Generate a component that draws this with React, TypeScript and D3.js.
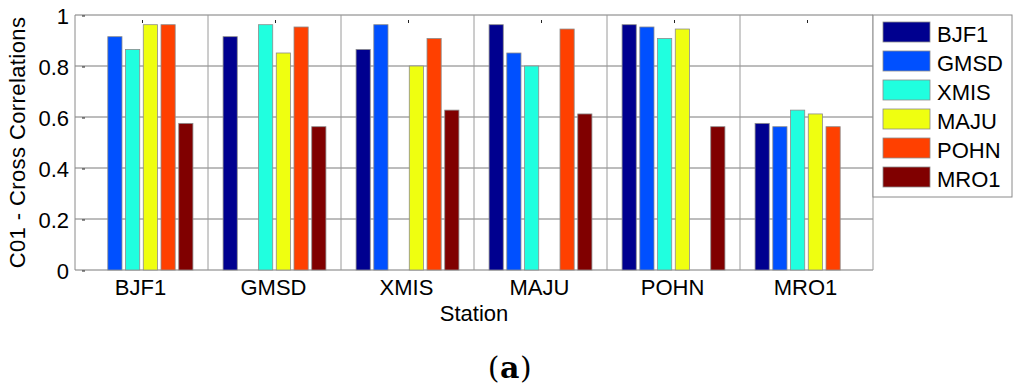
import React from "react";
import * as d3 from "d3";

const stations = ["BJF1", "GMSD", "XMIS", "MAJU", "POHN", "MRO1"];
const seriesNames = ["BJF1", "GMSD", "XMIS", "MAJU", "POHN", "MRO1"];
const seriesColors = ["#00008F", "#0050FF", "#20FFDF", "#EFFF10", "#FF4000", "#800000"];
const valsBJF1 = [null, 0.915, 0.865, 0.962, 0.962, 0.575];
const valsGMSD = [0.915, null, 0.962, 0.851, 0.953, 0.562];
const valsXMIS = [0.865, 0.962, null, 0.8, 0.908, 0.627];
const valsMAJU = [0.962, 0.851, 0.8, null, 0.945, 0.612];
const valsPOHN = [0.962, 0.953, 0.908, 0.945, null, 0.562];
const valsMRO1 = [0.575, 0.562, 0.627, 0.612, 0.562, null];
const yTicks = [0, 0.2, 0.4, 0.6, 0.8, 1];
const yTickLabels = ["0", "0.2", "0.4", "0.6", "0.8", "1"];

const seriesValues: (number | null)[][] = [valsBJF1, valsGMSD, valsXMIS, valsMAJU, valsPOHN, valsMRO1];

export default function App() {
  const W = 1024, H = 389;
  const left = 75, right = 873, top = 15, bottom = 270;
  const x = d3.scaleBand<string>().domain(stations).range([left, right]).paddingInner(0).paddingOuter(0);
  const bw = x.bandwidth();
  const xi = d3.scaleBand<string>().domain(seriesNames).range([bw * 0.1, bw * 0.9]).paddingInner(0.2).paddingOuter(0.1);
  const y = d3.scaleLinear().domain([0, 1]).range([bottom, top]);
  const font = "'Liberation Sans', Arial, sans-serif";
  const grid = "#7a7a7a";
  const fs = 22;

  const legX = 873, legY = 15, legW = 139, legH = 182;

  return (
    <svg width={W} height={H} style={{ position: "absolute", left: 0, top: 0 }} fontFamily={font}>
      <rect x={0} y={0} width={W} height={H} fill="#fff" />
      {/* horizontal grid */}
      {yTicks.map((t) => (
        <line key={"h" + t} x1={left} x2={right} y1={y(t)} y2={y(t)} stroke={grid} strokeWidth={1} />
      ))}
      {/* vertical grid at group boundaries */}
      {stations.slice(1).map((s) => (
        <line key={"v" + s} x1={x(s)!} x2={x(s)!} y1={top} y2={bottom} stroke="#9a9a9a" strokeWidth={1} />
      ))}
      {/* axis box */}
      <line x1={left} x2={left} y1={top} y2={bottom} stroke="#8a8a8a" strokeWidth={1} />
      <line x1={right} x2={right} y1={top} y2={bottom} stroke="#9a9a9a" strokeWidth={1} />
      {/* bars */}
      {seriesNames.map((sn, si) =>
        stations.map((st, ci) => {
          const v = seriesValues[si][ci];
          if (v == null) return null;
          const bx = x(st)! + xi(sn)!;
          return (
            <rect key={sn + st} x={bx} y={y(v)} width={xi.bandwidth()} height={bottom - y(v)}
              fill={seriesColors[si]} stroke="#8c8c8c" strokeWidth={0.8} />
          );
        })
      )}
      {/* small tick marks */}
      {yTicks.map((t) => (
        <line key={"yt" + t} x1={left + 7} x2={left + 10} y1={y(t) + 1} y2={y(t) + 1} stroke="#222" strokeWidth={1} />
      ))}
      {stations.map((s) => (
        <line key={"xt" + s} x1={x(s)! + bw / 2 + 1} x2={x(s)! + bw / 2 + 1} y1={top + 5} y2={top + 8} stroke="#222" strokeWidth={1} />
      ))}
      {/* y tick labels */}
      {yTicks.map((t, i) => (
        <text key={"yl" + t} x={left - 6} y={y(t) + 9} textAnchor="end" fontSize={fs} fill="#000">
          {yTickLabels[i]}
        </text>
      ))}
      {/* x tick labels */}
      {stations.map((s) => (
        <text key={"xl" + s} x={x(s)! + bw / 2 - 1} y={295} textAnchor="middle" fontSize={fs} fill="#000">
          {s}
        </text>
      ))}
      <text x={(left + right) / 2} y={321} textAnchor="middle" fontSize={fs} fill="#000">Station</text>
      <text transform={`translate(25,${(top + bottom) / 2}) rotate(-90)`} textAnchor="middle" fontSize={fs} letterSpacing={0.4} fill="#000">
        C01 - Cross Correlations
      </text>
      {/* legend */}
      <rect x={legX} y={legY} width={legW} height={legH} fill="#fff" stroke="#8a8a8a" strokeWidth={1} />
      {seriesNames.map((sn, i) => (
        <g key={"lg" + sn}>
          <rect x={883} y={22 + i * 29} width={47} height={20} fill={seriesColors[i]} stroke="#8c8c8c" strokeWidth={0.8} />
          <text x={937} y={41.5 + i * 29} fontSize={fs} fill="#000">{sn}</text>
        </g>
      ))}
      {/* panel label */}
      <text x={510} y={378} textAnchor="middle" fontSize={30} letterSpacing={0.5} fontFamily="'DejaVu Serif', 'Liberation Serif', serif" fill="#000">
        <tspan>(</tspan>
        <tspan fontWeight="bold">a</tspan>
        <tspan>)</tspan>
      </text>
    </svg>
  );
}
